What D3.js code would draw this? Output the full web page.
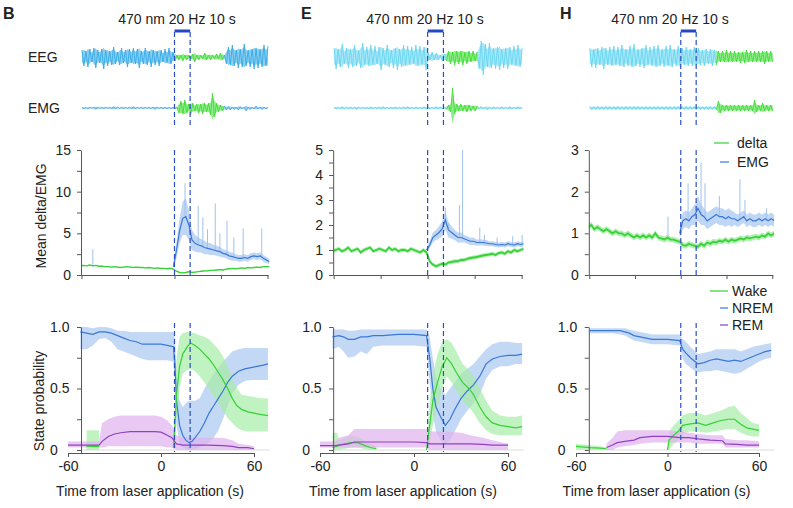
<!DOCTYPE html>
<html><head><meta charset="utf-8">
<script src="https://cdn.jsdelivr.net/npm/d3@7"></script>
<style>
html,body{margin:0;padding:0;background:#fff;}
svg text{font-family:"Liberation Sans",Arial,Helvetica,sans-serif;fill:#222;}
</style></head><body>
<svg id="c" width="793" height="508"></svg>
<script>
// ---------------- DATA ----------------
const panelIds = ["B", "E", "H"];
const stimTitle = "470 nm 20 Hz 10 s";
const laserWindow = [8.7, 18.8];
const timeTickValues = [-60, 0, 60];
const midTimeTicks = [-51.3, -21.3, 8.7, 38.7, 68.7];
const traceSpan = [-51, 69];
const legendMid = ["delta", "EMG"];
const legendState = ["Wake", "NREM", "REM"];

// raw EEG / EMG example traces (amplitude envelope samples)
const eegB = [7,9,6,10,8,5,9,11,7,6,8,12,7,9,6,8,10,7,5,8,9,6,7,10,8,6,9,7,8,11,6,7,9,8,6,10,7,8,6,9,7,5,8,6,9,7,5,4,
  2,3,2,4,2,3,2,2,3,5,2,3,2,2,4,3,2,3,2,2,3,2,4,3,2,
  7,10,8,12,9,7,11,8,10,13,9,7,10,8,12,9,11,8,10,12,9,11];
const emgTraceB = [1,1,0.5,1,1,0.5,1,1.5,1,0.5,1,1,1,0.5,1,1,1.5,1,1,0.5,1,1,1,0.5,1,1,1.5,1,1,0.5,1,1,1,0.5,1,1,1,1.5,1,0.5,1,1,1,1,0.5,1,1,1,1,
  5,7,6,8,5,4,6,5,3,4,5,4,6,5,4,5,7,15,9,5,4,3,3,2,
  2,1.5,2,1,1.5,1,2,1.5,1,1,3,1,1.5,1,1,2,1,1,1.5,1,1,1];
const eegE = [9,12,8,10,13,7,9,11,8,10,12,9,7,11,14,8,10,9,12,8,11,7,10,13,9,8,12,10,7,11,9,13,8,10,12,9,11,8,10,7,12,9,11,8,10,13,
  4,3,5,3,4,3,2,4,3,4,
  6,7,5,8,6,7,6,8,5,7,6,5,6,4,5,
  12,16,18,13,10,14,11,9,12,10,13,8,11,9,12,10,8,11,9,12,10,9];
const emgTraceE = [1,1.2,0.8,1,1.5,1,0.8,1,1.2,1,1,1.6,0.9,1,1,1.2,0.8,1,1.4,1,1,0.9,1.2,1,1.5,1,0.8,1,1.1,1,1.3,1,0.9,1,1.2,1,1.5,0.9,1,1,1.2,1,0.8,1,1.4,1,1,1.2,0.9,1,1.5,1,1.2,1,1,1.3,
  3,4,20,6,4,3,4,3,3,4,3,3,2,3,2,
  1,1.5,1,1,2,1,1,1.5,1,1,1,1.5,1,1,1,1.5,1,1,1,1.5,1,1];
const eegH = [9,10,8,11,9,8,10,12,9,8,10,9,11,8,10,9,12,10,8,9,11,10,13,9,8,10,9,11,12,8,10,9,11,10,12,9,8,10,11,9,12,10,8,9,11,10,9,8,10,9,8,9,10,8,9,8,7,9,8,7,8,9,7,8,
  6,5,6,5,7,5,6,5,6,5,5,6,5,6,7,5,6,5,6,5,6,5,6,7,6,5,6,5];
const emgTraceH = [1.5,1.6,1.4,1.5,1.6,1.5,1.4,1.6,1.5,1.5,1.6,1.4,1.5,1.5,1.6,1.5,1.4,1.5,1.6,1.5,1.5,1.4,1.6,1.5,1.5,1.6,1.4,1.5,1.5,1.6,1.5,1.4,1.5,1.6,1.5,1.5,1.4,1.6,1.5,1.5,1.6,1.4,1.5,1.5,1.6,1.5,1.4,1.5,1.6,1.5,1.5,1.4,1.6,1.5,1.5,1.6,1.4,1.5,1.5,1.6,1.5,1.4,1.5,1.6,
  7,5,3,3,3,3,3,3,3,3,3,3,3,3,3,3,3,3,8,4,3,3,5,3,3,3,3,3];
// wake (green) periods in the example traces, s
const wakeWinB = [10.2, 41.5];
const wakeWinE = [21.3, 41];
const wakeWinH = [33, 70];

// mean delta / EMG time grid
const T = [-52,-50,-48,-46,-44,-42,-40,-38,-36,-34,-32,-30,-28,-26,-24,-22,-20,-18,-16,-14,-12,-10,-8,-6,-4,-2,0,2,4,6,8,10,12,14,16,18,20,22,24,26,28,30,32,34,36,38,40,42,44,46,48,50,52,54,56,58,60,62,64,66,68,70];
const TE = [8,10,12,14,16,18,20,22,24,26,28,30,32,34,36,38,40,42,44,46,48,50,52,54,56,58,60,62,64,66,68,70];

const deltaB = [1.1,1.15,1.1,1.2,1.1,1.15,1.05,1.05,1.0,1.0,0.95,1.0,0.95,0.9,0.95,1.0,0.95,0.9,0.95,0.9,0.9,0.85,0.9,0.85,0.8,0.85,0.8,
  0.8,0.75,0.8,0.7,0.45,0.3,0.25,0.3,0.4,0.3,
  0.35,0.4,0.45,0.5,0.5,0.55,0.55,0.6,0.65,0.6,0.7,0.75,0.8,0.75,0.8,0.85,0.8,0.9,0.85,0.9,0.95,0.9,1.0,1.0,1.0];
const emgB = [1.0,3.0,5.3,6.8,7.0,6.0,4.2,3.8,3.6,3.5,3.3,3.2,3.1,3.0,2.9,2.8,2.6,2.5,2.3,2.2,2.1,2.0,2.0,2.1,2.0,2.2,2.3,2.2,2.3,2.0,1.8,1.6];
const emgErrB = [0.2,1.0,1.5,2.0,2.2,1.8,1.2,1.0,0.9,0.8,0.8,0.7,0.7,0.6,0.6,0.6,0.5,0.5,0.5,0.5,0.4,0.4,0.4,0.4,0.4,0.4,0.4,0.4,0.4,0.4,0.4,0.3];
const spikesB = [[-44,3.1],[15.5,11],[24,8.3],[27,6.9],[30,5.5],[35,8.6],[38,5],[42.6,6.5],[47,4.5],[53,5.6],[65,5.6]];

const deltaE = [0.95,1.0,1.05,0.95,1.0,1.1,0.95,1.0,1.05,0.9,1.0,1.05,1.1,0.95,1.0,1.05,1.0,0.95,1.1,1.0,1.05,0.95,1.0,1.0,0.95,1.05,1.0,0.95,0.9,1.0,
  0.9,0.55,0.42,0.35,0.4,0.45,0.42,0.5,0.52,0.55,0.55,0.6,0.6,0.65,0.68,0.7,0.72,0.75,0.78,0.8,0.82,0.85,0.8,0.88,0.9,0.85,0.95,0.9,1.0,0.95,1.0,1.05];
const emgE = [1.0,1.2,1.5,1.6,1.7,1.85,2.2,1.8,1.7,1.6,1.5,1.5,1.45,1.4,1.35,1.35,1.3,1.3,1.3,1.28,1.25,1.25,1.22,1.2,1.22,1.2,1.25,1.22,1.2,1.25,1.22,1.25];
const emgErrE = [0.05,0.15,0.2,0.2,0.25,0.3,0.4,0.3,0.25,0.2,0.2,0.2,0.15,0.15,0.15,0.15,0.12,0.12,0.12,0.12,0.1,0.1,0.1,0.1,0.1,0.1,0.1,0.1,0.1,0.1,0.1,0.1];
const spikesE = [[20,2.7],[22,2.1],[29,2.8],[31,5.0],[42,1.9],[45,1.6],[53,1.5],[63,1.55],[69,1.6]];

const deltaH = [1.15,1.2,1.1,1.15,1.1,1.05,1.1,1.05,1.0,1.05,1.0,1.0,0.95,1.0,0.95,0.9,0.95,0.9,0.95,0.9,0.95,0.9,1.0,0.9,0.88,0.85,0.9,0.85,0.85,0.82,
  0.8,0.72,0.7,0.75,0.72,0.7,0.68,0.75,0.7,0.78,0.75,0.8,0.78,0.82,0.8,0.85,0.8,0.85,0.82,0.85,0.88,0.85,0.9,0.88,0.9,0.92,0.9,0.95,0.92,1.0,0.95,1.0];
const emgH = [1.0,1.3,1.35,1.3,1.4,1.45,1.6,1.45,1.4,1.3,1.35,1.4,1.45,1.4,1.4,1.35,1.4,1.35,1.35,1.3,1.35,1.4,1.3,1.35,1.3,1.3,1.35,1.3,1.35,1.3,1.35,1.3];
const emgErrH = [0.1,0.2,0.2,0.2,0.2,0.25,0.3,0.25,0.2,0.2,0.2,0.2,0.2,0.2,0.2,0.2,0.2,0.2,0.15,0.15,0.15,0.15,0.15,0.15,0.15,0.15,0.15,0.15,0.15,0.15,0.15,0.15];
const spikesH = [[0.3,1.4],[13.5,2.2],[22,2.7],[24.6,2.2],[34,1.9],[47.5,2.3],[50.8,1.8],[65,1.6]];
const deltaErr = [0.05, 0.08, 0.07];
const midYMax = [15, 5, 3];
const midYLabels = [[0,5,10,15],[0,1,2,3,4,5],[0,1,2,3]];
const midYMinorStep = [2.5, 0.5, 0.5];

// state probabilities: [time s, mean, lower, upper]
const probNremB = [[-52,0.96,0.82,1.0],[-48,0.95,0.82,1.0],[-44,0.94,0.85,0.99],[-40,0.96,0.9,1.0],[-36,0.96,0.91,1.0],[-32,0.95,0.88,0.99],[-28,0.93,0.82,0.97],[-24,0.91,0.8,0.97],[-20,0.89,0.78,0.96],[-16,0.88,0.76,0.96],[-12,0.86,0.74,0.96],[-8,0.86,0.73,0.96],[-4,0.86,0.73,0.96],[0,0.86,0.73,0.96],[4,0.85,0.73,0.96],[8,0.84,0.72,0.96],[9,0.7,0.55,0.9],[10,0.4,0.2,0.6],[12,0.2,0.05,0.4],[14,0.12,0.02,0.35],[16,0.08,0.01,0.38],[18,0.06,0.0,0.4],[20,0.07,0.0,0.4],[22,0.1,0.01,0.4],[25,0.15,0.02,0.42],[28,0.22,0.04,0.5],[31,0.3,0.06,0.56],[34,0.36,0.1,0.62],[37,0.42,0.16,0.67],[40,0.48,0.25,0.72],[43,0.55,0.36,0.76],[46,0.6,0.46,0.8],[50,0.64,0.53,0.82],[54,0.66,0.56,0.83],[58,0.67,0.57,0.83],[62,0.68,0.57,0.83],[66,0.69,0.57,0.83],[69,0.7,0.57,0.83]];
const probWakeB = [[-48,0.03,0.0,0.16],[-40,0.03,0.0,0.16],[-39,null,null,null],[8,0.02,0.0,0.05],[9,0.2,0.05,0.4],[10,0.45,0.25,0.75],[12,0.68,0.5,0.92],[14,0.78,0.62,0.95],[17,0.84,0.65,0.96],[19,0.87,0.66,0.96],[22,0.85,0.64,0.95],[25,0.82,0.6,0.93],[28,0.78,0.55,0.92],[31,0.74,0.5,0.9],[34,0.69,0.44,0.86],[37,0.63,0.38,0.82],[40,0.57,0.32,0.76],[43,0.5,0.26,0.68],[46,0.42,0.22,0.58],[49,0.36,0.18,0.5],[52,0.33,0.16,0.45],[56,0.31,0.15,0.44],[60,0.3,0.15,0.43],[64,0.29,0.15,0.42],[69,0.28,0.15,0.42]];
const probRemB = [[-60,0.04,0.02,0.07],[-50,0.04,0.02,0.07],[-40,0.04,0.02,0.07],[-38,0.07,0.02,0.22],[-34,0.11,0.03,0.25],[-30,0.13,0.03,0.27],[-26,0.14,0.03,0.28],[-20,0.15,0.03,0.28],[-12,0.15,0.03,0.28],[-4,0.15,0.03,0.28],[0,0.145,0.03,0.27],[4,0.12,0.02,0.24],[7,0.1,0.02,0.2],[10,0.05,0.0,0.12],[14,0.04,0.0,0.1],[20,0.04,0.0,0.1],[30,0.04,0.0,0.1],[40,0.035,0.0,0.1],[46,0.03,0.0,0.08],[50,0.02,0.0,0.05],[56,0.02,0.0,0.04],[60,0.01,0.0,0.03]];

const probNremE = [[-52,0.92,0.82,0.98],[-48,0.93,0.84,0.98],[-45,0.92,0.8,0.98],[-42,0.9,0.75,0.97],[-38,0.9,0.76,0.97],[-34,0.92,0.8,0.98],[-30,0.92,0.78,0.98],[-26,0.93,0.84,0.98],[-20,0.93,0.85,0.98],[-10,0.94,0.85,0.98],[0,0.94,0.85,0.98],[8,0.93,0.84,0.98],[10,0.75,0.55,0.92],[12,0.5,0.3,0.75],[14,0.35,0.15,0.6],[17,0.27,0.08,0.5],[20,0.2,0.05,0.45],[23,0.25,0.08,0.5],[26,0.33,0.15,0.55],[30,0.42,0.25,0.62],[34,0.48,0.32,0.66],[38,0.53,0.38,0.7],[42,0.6,0.45,0.76],[46,0.7,0.58,0.82],[50,0.74,0.65,0.86],[55,0.76,0.68,0.88],[60,0.77,0.68,0.88],[65,0.77,0.7,0.87],[69,0.78,0.7,0.87]];
const probWakeE = [[-52,0.02,0.0,0.14],[-49,0.03,0.0,0.14],[-48,0.04,0.0,0.08],[-44,0.05,0.01,0.1],[-40,0.06,0.02,0.12],[-36,0.06,0.02,0.11],[-32,0.04,0.01,0.08],[-28,0.02,0.0,0.05],[-24,0.01,0.0,0.03],[-20,null,null,null],[8,0.0,0.0,0.05],[10,0.2,0.05,0.4],[12,0.4,0.2,0.6],[15,0.55,0.35,0.78],[18,0.68,0.5,0.88],[21,0.75,0.6,0.9],[24,0.7,0.55,0.87],[27,0.63,0.48,0.8],[31,0.55,0.4,0.7],[35,0.5,0.35,0.65],[38,0.45,0.3,0.6],[42,0.35,0.22,0.5],[46,0.27,0.16,0.4],[50,0.22,0.13,0.32],[55,0.2,0.12,0.28],[60,0.19,0.12,0.27],[65,0.18,0.12,0.27],[69,0.19,0.12,0.28]];
const probRemE = [[-60,0.035,0.02,0.07],[-50,0.035,0.02,0.07],[-48,0.04,0.02,0.1],[-42,0.05,0.02,0.12],[-38,0.065,0.02,0.17],[-30,0.065,0.02,0.17],[-20,0.065,0.02,0.17],[-10,0.065,0.02,0.17],[0,0.065,0.02,0.17],[8,0.06,0.02,0.17],[10,0.05,0.0,0.15],[20,0.05,0.0,0.15],[30,0.05,0.0,0.14],[36,0.05,0.0,0.12],[44,0.045,0.0,0.1],[50,0.04,0.0,0.08],[56,0.04,0.0,0.06],[60,0.04,0.0,0.05]];

const probNremH = [[-51,0.97,0.95,0.99],[-44,0.97,0.95,0.99],[-36,0.97,0.95,0.99],[-31,0.97,0.94,0.99],[-28,0.96,0.93,0.99],[-25,0.95,0.91,0.98],[-22,0.93,0.89,0.97],[-18,0.92,0.88,0.96],[-14,0.91,0.87,0.95],[-10,0.9,0.86,0.94],[0,0.9,0.86,0.94],[8,0.89,0.85,0.94],[10,0.82,0.74,0.9],[12,0.79,0.7,0.88],[15,0.75,0.67,0.84],[18,0.72,0.64,0.8],[20,0.7,0.63,0.78],[24,0.71,0.64,0.79],[28,0.73,0.64,0.8],[32,0.74,0.65,0.82],[36,0.73,0.64,0.82],[40,0.72,0.63,0.82],[44,0.73,0.62,0.82],[48,0.72,0.63,0.8],[52,0.74,0.66,0.82],[56,0.76,0.69,0.84],[60,0.78,0.72,0.85],[64,0.8,0.74,0.86],[68,0.81,0.75,0.87]];
const probWakeH = [[-60,0.03,0.0,0.05],[-51,0.02,0.0,0.04],[-44,0.015,0.0,0.03],[-40,0.01,0.0,0.02],[-39,null,null,null],[0,0.0,0.0,0.02],[1,0.08,0.0,0.15],[4,0.12,0.05,0.2],[7,0.15,0.08,0.24],[10,0.2,0.13,0.28],[14,0.21,0.15,0.3],[20,0.22,0.15,0.3],[25,0.2,0.14,0.28],[30,0.22,0.15,0.3],[35,0.24,0.16,0.32],[40,0.25,0.17,0.35],[44,0.25,0.17,0.36],[48,0.21,0.14,0.3],[52,0.18,0.12,0.26],[56,0.17,0.11,0.22],[60,0.16,0.11,0.21]];
const probRemH = [[-40,0.02,0.0,0.05],[-36,0.04,0.0,0.1],[-33,0.06,0.02,0.15],[-28,0.07,0.03,0.16],[-22,0.08,0.04,0.16],[-18,0.1,0.05,0.16],[-10,0.11,0.06,0.16],[0,0.11,0.06,0.16],[8,0.1,0.06,0.15],[14,0.1,0.06,0.14],[20,0.09,0.05,0.13],[28,0.08,0.05,0.12],[36,0.075,0.05,0.12],[38,0.05,0.02,0.09],[46,0.045,0.02,0.08],[52,0.04,0.02,0.08],[60,0.04,0.02,0.07]];
const probYTicks = [0, 0.25, 0.5, 0.75, 1];
const probYLabels = [[0,"0"],[0.5,"0.5"],[1,"1.0"]];

// ---------------- BUILD ----------------
const panels = [
  {id:panelIds[0], eeg:eegB, emgTr:emgTraceB, wake:wakeWinB, delta:deltaB, emg:emgB, emgErr:emgErrB, spikes:spikesB,
   nrem:probNremB, wk:probWakeB, rem:probRemB, x0:68, x1:254, letterX:3, titleX:177, eegC:"#2aa6e6", emgC:"#45a8ea"},
  {id:panelIds[1], eeg:eegE, emgTr:emgTraceE, wake:wakeWinE, delta:deltaE, emg:emgE, emgErr:emgErrE, spikes:spikesE,
   nrem:probNremE, wk:probWakeE, rem:probRemE, x0:320, x1:508, letterX:301, titleX:425, eegC:"#5fd4f0", emgC:"#5ad3ef"},
  {id:panelIds[2], eeg:eegH, emgTr:emgTraceH, wake:wakeWinH, delta:deltaH, emg:emgH, emgErr:emgErrH, spikes:spikesH,
   nrem:probNremH, wk:probWakeH, rem:probRemH, x0:576, x1:759, letterX:560, titleX:670, eegC:"#5fd4f0", emgC:"#5ad3ef"}
];

const C = {
  green:"#36d236", greenBand:"#a6eca6", blue:"#3a78d6", blueBand:"#a9c8f0",
  purple:"#9040c4", purpleBand:"#e0b2ee", traceGreen:"#35dc2a", dash:"#2b4fc0", axis:"#555"
};
const intFmt = d => String(d);

const svg = d3.select("#c");
const defs = svg.append("defs");

panels.forEach((p, pi) => {
  const g = svg.append("g");
  const x = d3.scaleLinear().domain([-60, 60]).range([p.x0, p.x1]);
  const axT = -51.6, endT = 69;
  const ax = x(axT);

  // ---- header
  g.append("text").attr("x", p.letterX).attr("y", 19).attr("font-size", 16).attr("font-weight", "bold").text(p.id);
  g.append("text").attr("x", p.titleX).attr("y", 24).attr("text-anchor", "middle").attr("font-size", 14).text(stimTitle);
  g.append("line").attr("x1", x(laserWindow[0])).attr("x2", x(laserWindow[1])).attr("y1", 31).attr("y2", 31)
    .attr("stroke", "#2448c4").attr("stroke-width", 3);

  // ---- traces: light envelope + oscillating line through the envelope samples
  function drawTrace(vals, cy, color) {
    const n = vals.length;
    const ti = d3.scaleLinear().domain([0, n - 1]).range(traceSpan);
    const sx = d3.scaleLinear().domain([0, n - 1]).range([x(traceSpan[0]), x(traceSpan[1])]);
    const sy = d3.scaleLinear().domain([-30, 30]).range([cy + 30, cy - 30]);
    const rows = vals.map((a, i) => ({i, a, w: ti(i) >= p.wake[0] && ti(i) <= p.wake[1]}));
    // split into runs of same state, sharing the boundary sample
    const runs = [];
    rows.forEach((r, k) => {
      if (!runs.length || runs[runs.length - 1].w !== r.w) {
        const run = {w: r.w, rows: k > 0 ? [rows[k - 1]] : []};
        runs.push(run);
      }
      runs[runs.length - 1].rows.push(r);
    });
    const area = d3.area().x(d => sx(d.i)).y0(d => sy(-d.a * 0.8)).y1(d => sy(d.a * 0.8));
    const zig = d3.line().x(d => sx(d.i)).y(d => sy(d.i % 2 === 0 ? d.a : -d.a));
    runs.forEach(run => {
      const c = run.w ? C.traceGreen : color;
      g.append("path").datum(run.rows).attr("d", area).attr("fill", c).attr("opacity", 0.55);
      g.append("path").datum(run.rows).attr("d", zig).attr("fill", "none").attr("stroke", c)
        .attr("stroke-width", 0.8).attr("stroke-linejoin", "miter");
    });
  }
  drawTrace(p.eeg, 57, p.eegC);
  drawTrace(p.emgTr, 108, p.emgC);
  if (pi === 0) {
    g.append("text").attr("x", 28).attr("y", 62).attr("font-size", 14).text("EEG");
    g.append("text").attr("x", 28).attr("y", 113).attr("font-size", 14).text("EMG");
  }

  const dashes = (y1, y2) => laserWindow.forEach(t => g.append("line")
    .attr("x1", x(t)).attr("x2", x(t)).attr("y1", y1).attr("y2", y2)
    .attr("stroke", C.dash).attr("stroke-width", 1.2).attr("stroke-dasharray", "5,3"));
  dashes(32, 127);

  // ---- middle: mean delta / EMG
  const ym = d3.scaleLinear().domain([0, midYMax[pi]]).range([275, 150]);
  const xm = d3.scaleLinear().domain([axT, endT]).range([x(axT), x(endT)]);
  const clipId = "clipm" + pi;
  defs.append("clipPath").attr("id", clipId).append("rect")
    .attr("x", ax).attr("y", 140).attr("width", x(endT + 1) - ax).attr("height", 136);
  const gm = g.append("g").attr("clip-path", `url(#${clipId})`);

  const emgRows = TE.map((t, i) => ({t, v: p.emg[i], e: p.emgErr[i]}));
  gm.append("path").datum(emgRows)
    .attr("d", d3.area().x(d => x(d.t)).y0(d => ym(d.v - d.e)).y1(d => ym(d.v + d.e)))
    .attr("fill", C.blueBand).attr("opacity", 0.75);
  p.spikes.forEach(([t, v]) => {
    const base = t < TE[0] ? p.delta[d3.minIndex(T, tt => Math.abs(tt - t))]
                           : p.emg[d3.minIndex(TE, tt => Math.abs(tt - t))];
    gm.append("line").attr("x1", x(t)).attr("x2", x(t)).attr("y1", ym(base)).attr("y2", ym(v))
      .attr("stroke", "#9fc2ee").attr("stroke-width", 1);
  });
  gm.append("path").datum(emgRows).attr("d", d3.line().x(d => x(d.t)).y(d => ym(d.v)))
    .attr("fill", "none").attr("stroke", C.blue).attr("stroke-width", 1.2);

  const dRows = T.map((t, i) => ({t, v: p.delta[i]}));
  const de = deltaErr[pi];
  gm.append("path").datum(dRows)
    .attr("d", d3.area().x(d => x(d.t)).y0(d => ym(d.v - de)).y1(d => ym(d.v + de)))
    .attr("fill", C.greenBand).attr("opacity", 0.85);
  gm.append("path").datum(dRows).attr("d", d3.line().x(d => x(d.t)).y(d => ym(d.v)))
    .attr("fill", "none").attr("stroke", C.green).attr("stroke-width", pi === 0 ? 1.4 : 1.8);

  const minorTicks = d3.range(0, midYMax[pi] + 1e-9, midYMinorStep[pi]);
  const yAxM = g.append("g").attr("transform", `translate(${ax},0)`)
    .call(d3.axisLeft(ym).tickValues(minorTicks).tickSize(4).tickSizeOuter(0).tickPadding(6)
      .tickFormat(d => midYLabels[pi].some(v => Math.abs(v - d) < 1e-9) ? intFmt(d) : ""));
  const xAxM = g.append("g").attr("transform", `translate(0,275)`)
    .call(d3.axisBottom(xm).tickValues(midTimeTicks).tickSize(4).tickSizeOuter(0).tickFormat(""));
  [yAxM, xAxM].forEach(a => {
    a.selectAll("path,line").attr("stroke", C.axis);
    a.selectAll("text").attr("font-size", 14).attr("fill", "#222")
      .attr("font-family", '"Liberation Sans",Arial,sans-serif');
  });
  dashes(150, 275);
  if (pi === 0) {
    g.append("text").attr("transform", "translate(46,216) rotate(-90)").attr("text-anchor", "middle")
      .attr("font-size", 14).text("Mean delta/EMG");
  }

  // ---- bottom: state probability
  const yb = d3.scaleLinear().domain([-0.0244, 1]).range([453, 327]);
  const clipB = "clipb" + pi;
  defs.append("clipPath").attr("id", clipB).append("rect")
    .attr("x", x(-60)).attr("y", 320).attr("width", x(70) - x(-60)).attr("height", 133);
  g.append("line").attr("x1", ax).attr("x2", x(70)).attr("y1", yb(0)).attr("y2", yb(0))
    .attr("stroke", "#dcdcdc").attr("stroke-width", 1);
  const gb = g.append("g").attr("clip-path", `url(#${clipB})`);
  const def = d => d[1] != null;
  const series = [[p.nrem, C.blue, C.blueBand], [p.wk, C.green, C.greenBand], [p.rem, C.purple, C.purpleBand]];
  series.forEach(([rows, lc, bc]) => {
    gb.append("path").datum(rows)
      .attr("d", d3.area().defined(def).x(d => x(d[0])).y0(d => yb(d[2])).y1(d => yb(d[3])))
      .attr("fill", bc).attr("opacity", 0.7);
  });
  series.forEach(([rows, lc]) => {
    gb.append("path").datum(rows)
      .attr("d", d3.line().defined(def).x(d => x(d[0])).y(d => yb(d[1])))
      .attr("fill", "none").attr("stroke", lc).attr("stroke-width", 1.2);
  });
  const yAxB = g.append("g").attr("transform", `translate(${ax},0)`)
    .call(d3.axisLeft(yb).tickValues(probYTicks).tickSize(4).tickSizeOuter(0).tickFormat(""));
  const xAxB = g.append("g").attr("transform", `translate(0,453)`)
    .call(d3.axisBottom(x).tickValues(timeTickValues).tickSize(4).tickSizeOuter(0).tickPadding(4).tickFormat(intFmt));
  [yAxB, xAxB].forEach(a => {
    a.selectAll("path,line").attr("stroke", C.axis);
    a.selectAll("text").attr("font-size", 14).attr("fill", "#222")
      .attr("font-family", '"Liberation Sans",Arial,sans-serif');
  });
  probYLabels.forEach(([v, s]) => g.append("text").attr("x", ax - 31).attr("y", yb(v)).attr("dy", "0.35em")
    .attr("font-size", 14).text(s));
  dashes(323, 452);
  g.append("text").attr("x", x(0) - 11).attr("y", 496).attr("text-anchor", "middle").attr("font-size", 14)
    .text("Time from laser application (s)");
  if (pi === 0) {
    g.append("text").attr("transform", "translate(44,401) rotate(-90)").attr("text-anchor", "middle")
      .attr("font-size", 14).text("State probability");
  }
});

// ---- legends
const lg = svg.append("g");
[[legendMid[0], C.green, 714, 143], [legendMid[1], C.blue, 720, 162]].forEach(([t, c, lx, y]) => {
  lg.append("line").attr("x1", lx).attr("x2", 729).attr("y1", y).attr("y2", y).attr("stroke", c).attr("stroke-width", 1.2);
  lg.append("text").attr("x", 737).attr("y", y).attr("dy", "0.35em").attr("font-size", 14).text(t);
});
[[legendState[0], C.green, 710, 291], [legendState[1], C.blue, 720, 308], [legendState[2], C.purple, 720, 325]].forEach(([t, c, lx, y]) => {
  lg.append("line").attr("x1", lx).attr("x2", 728).attr("y1", y).attr("y2", y).attr("stroke", c).attr("stroke-width", 1.2);
  lg.append("text").attr("x", 732).attr("y", y).attr("dy", "0.35em").attr("font-size", 14).text(t);
});
</script>
</body></html>
